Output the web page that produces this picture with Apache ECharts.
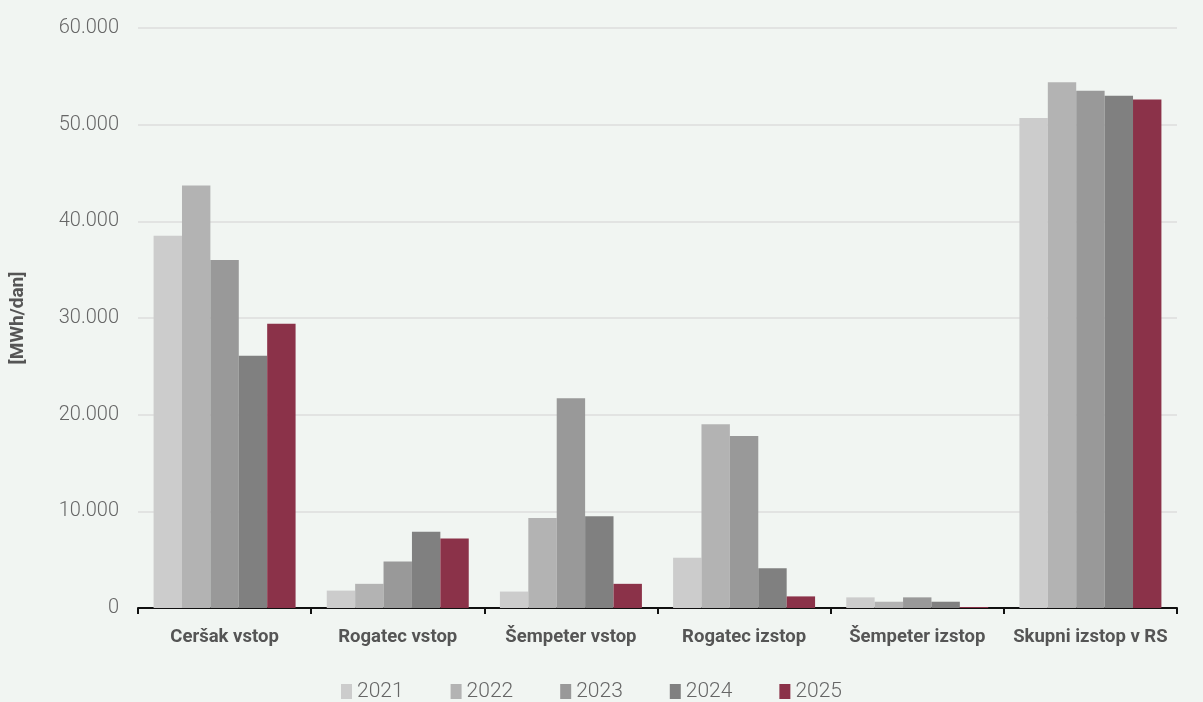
<!DOCTYPE html>
<html>
<head>
  <meta charset="utf-8">
  <title></title>
  <script src="https://cdn.jsdelivr.net/npm/echarts@6/dist/echarts.min.js"></script>
  <style>
    html, body { margin: 0; padding: 0; background: #f1f5f2; }
    #chart { width: 1203px; height: 702px; }
  </style>
</head>
<body>
<div id="chart"></div>
<script>
  var categories = ['Ceršak vstop', 'Rogatec vstop', 'Šempeter vstop', 'Rogatec izstop', 'Šempeter izstop', 'Skupni izstop v RS'];
  var years = ['2021', '2022', '2023', '2024', '2025'];
  var colors = ['#cccccc', '#b3b3b3', '#999999', '#808080', '#8b3249'];
  var v2021 = [38500, 1800, 1700, 5200, 1100, 50700];
  var v2022 = [43700, 2500, 9300, 19000, 650, 54400];
  var v2023 = [36000, 4800, 21700, 17800, 1100, 53500];
  var v2024 = [26100, 7900, 9500, 4100, 650, 53000];
  var v2025 = [29400, 7200, 2500, 1200, 100, 52600];
  var values = [v2021, v2022, v2023, v2024, v2025];

  var chart = echarts.init(document.getElementById('chart'));

  var series = [];
  for (var i = 0; i < years.length; i++) {
    series.push({
      name: years[i],
      type: 'bar',
      data: values[i],
      itemStyle: { color: colors[i] },
      barGap: '0%',
      barCategoryGap: '18%'
    });
  }

  chart.setOption({
    backgroundColor: '#f1f5f2',
    animation: false,
    grid: { left: 138, right: 26, top: 28, bottom: 94 },
    legend: {
      top: 681,
      left: 341,
      padding: 0,
      itemWidth: 11,
      itemHeight: 15,
      itemGap: 47,
      icon: 'rect',
      textStyle: { color: '#666', fontSize: 21, fontFamily: 'Roboto', fontWeight: 300 },
      data: years
    },
    xAxis: {
      type: 'category',
      data: categories,
      axisLine: { lineStyle: { color: '#111', width: 2 } },
      axisTick: { show: true, length: 6, lineStyle: { color: '#111', width: 2 } },
      axisLabel: { color: '#555', fontSize: 18.5, fontWeight: 'bold', fontFamily: 'Roboto', margin: 20, interval: 0 }
    },
    yAxis: {
      type: 'value',
      min: 0,
      max: 60000,
      interval: 10000,
      name: '[MWh/dan]',
      nameLocation: 'middle',
      nameGap: 110,
      nameRotate: 90,
      nameTextStyle: { color: '#555', fontSize: 19, fontWeight: 'bold', fontFamily: 'Roboto' },
      axisLine: { show: false },
      axisTick: { show: false },
      splitLine: { lineStyle: { color: '#dcdcdc', width: 1.5 } },
      axisLabel: {
        color: '#666', fontSize: 20, fontFamily: 'Roboto', fontWeight: 300, margin: 19,
        padding: [0, 0, 5, 0],
        formatter: function (v) {
          return String(v).replace(/\B(?=(\d{3})+(?!\d))/g, '.');
        }
      }
    },
    series: series
  });
</script>
</body>
</html>
